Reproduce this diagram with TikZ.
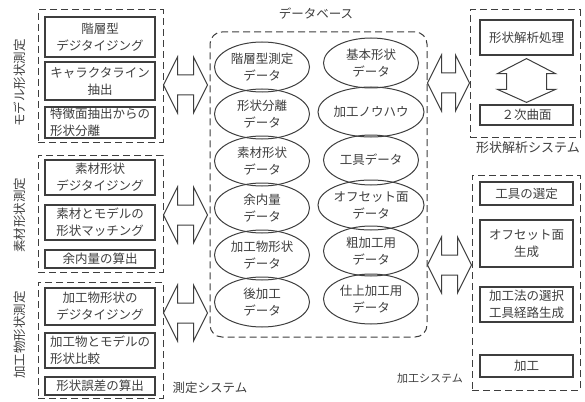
\documentclass[tikz,border=0pt]{standalone}
\usepackage{fontspec}
\setmainfont{Noto Sans CJK JP}
\usetikzlibrary{shapes.geometric,calc}
\definecolor{ink}{RGB}{62,62,62}
\newcommand\dblharrow[2]{%
  \draw[arr] (#1) -- ++(14pt,28pt) -- ++(0pt,-18pt) -- ($(#2)+(-14pt,10pt)$)
    -- ++(0pt,18pt) -- (#2) -- ++(-14pt,-28pt) -- ++(0pt,18pt)
    -- ($(#1)+(14pt,-10pt)$) -- ++(0pt,-18pt) -- cycle;}
\newcommand\dblvarrow[2]{%
  \draw[arr] (#1) -- ++(29pt,-15pt) -- ++(-9pt,0pt) -- ($(#2)+(20pt,13pt)$)
    -- ++(9pt,0pt) -- (#2) -- ++(-29pt,13pt) -- ++(9pt,0pt)
    -- ($(#1)+(-20pt,-15pt)$) -- ++(-9pt,0pt) -- cycle;}
\begin{document}
\begin{tikzpicture}[x=1pt,y=-1pt,
  box/.style={draw=ink, line width=1.2pt, inner sep=0pt, align=center, text=ink,
    minimum width=110pt, font=\fontsize{12.5}{17}\selectfont},
  rbox/.style={box, minimum width=93pt},
  grp/.style={draw=ink, line width=1pt, dash pattern=on 7pt off 4pt, inner sep=0pt},
  oval/.style={ellipse, draw=ink, line width=1pt, inner sep=0pt, minimum width=95pt,
    minimum height=50pt, align=center, text=ink, font=\fontsize{12.5}{17}\selectfont},
  lbl/.style={text=ink, inner sep=0pt, font=\fontsize{12.5}{14}\selectfont},
  arr/.style={draw=ink, line width=1pt, line join=miter, fill=white}]
\useasboundingbox (0,0) rectangle (585,401);

% left groups
\node[grp, minimum width=125pt, minimum height=132pt] (g1) at (100.5,76) {};
\node[grp, minimum width=125pt, minimum height=117pt] (g2) at (100.5,213.5) {};
\node[grp, minimum width=125pt, minimum height=116pt] (g3) at (100.5,340) {};

\node[box, minimum height=40pt] (b11) at (100,37) {階層型\\デジタイジング};
\node[box, minimum height=38pt] (b12) at (100,81) {キャラクタライン\\抽出};
\node[box, minimum height=31pt, align=left] (b13) at (100,122.5) {特徴面抽出からの\\形状分離};
\node[box, minimum height=35pt] (b21) at (100,177.5) {素材形状\\デジタイジング};
\node[box, minimum height=35pt] (b22) at (100,222.5) {素材とモデルの\\形状マッチング};
\node[box, minimum height=18pt] (b23) at (100,259) {余内量の算出};
\node[box, minimum height=37pt] (b31) at (100,306.5) {加工物形状の\\デジタイジング};
\node[box, minimum height=35pt, align=left] (b32) at (100,350.5) {加工物とモデルの\\形状比較};
\node[box, minimum height=18pt] (b33) at (100,386) {形状誤差の算出};

\node[lbl, rotate=90] (l1) at (20,83) {モデル形状測定};
\node[lbl, rotate=90] (l2) at (20,215) {素材形状測定};
\node[lbl, rotate=90] (l3) at (20,335) {加工物形状測定};
\node[lbl] (l4) at (210,388) {測定システム};

% database
\node[grp, rounded corners=12pt, minimum width=217pt, minimum height=305pt] (db) at (318.5,184.5) {};
\node[lbl] (dbl) at (316,14) {データベース};

\node[oval] (e11) at (262,67) {階層型測定\\データ};
\node[oval] (e12) at (262,114) {形状分離\\データ};
\node[oval] (e13) at (262,161) {素材形状\\データ};
\node[oval] (e14) at (262,208) {余内量\\データ};
\node[oval] (e15) at (262,255) {加工物形状\\データ};
\node[oval] (e16) at (262,302) {後加工\\データ};

\node[oval] (e21) at (371,63) {基本形状\\データ};
\node[oval] (e22) at (371,112) {加工ノウハウ};
\node[oval] (e23) at (371,160) {工具データ};
\node[oval] (e24) at (371,205) {オフセット面\\データ};
\node[oval] (e25) at (371,251) {粗加工用\\データ};
\node[oval] (e26) at (371,299) {仕上加工用\\データ};

% right groups
\node[grp, minimum width=110pt, minimum height=127pt] (s1) at (525,73.5) {};
\node[rbox, minimum height=35pt] (r11) at (526.5,37.5) {形状解析処理};
\node[rbox, minimum height=20pt] (r12) at (526.5,115) {２次曲面};
\node[lbl, font=\fontsize{13}{14}\selectfont] (l5) at (528,148) {形状解析システム};

\node[grp, minimum width=108pt, minimum height=215pt] (s2) at (526,282.5) {};
\node[rbox, minimum height=23pt] (r21) at (526.5,193.5) {工具の選定};
\node[rbox, minimum height=47pt] (r22) at (526.5,243.5) {オフセット面\\生成};
\node[rbox, minimum height=35pt] (r23) at (526.5,304.5) {加工法の選択\\工具経路生成};
\node[rbox, minimum height=22pt] (r24) at (526.5,366) {加工};
\node[lbl, font=\fontsize{11}{13}\selectfont] (l6) at (430,378) {加工システム};

% arrows
\path (g1.east) ++(0,9) coordinate (a1l);
\path (db.west |- a1l) ++(-2,0) coordinate (a1r);
\path (g2.east) ++(0,1.5) coordinate (a2l);
\path (db.west |- a2l) ++(-2,0) coordinate (a2r);
\path (g3.east) ++(0,-27) coordinate (a3l);
\path (db.west |- a3l) ++(-2,0) coordinate (a3r);
\path (s1.west) ++(0,9.5) coordinate (a4r);
\path (db.east |- a4r) coordinate (a4l);
\path (s2.west) ++(0,-17.5) coordinate (a5r);
\path (db.east |- a5r) coordinate (a5l);
\dblharrow{a1l}{a1r}
\dblharrow{a2l}{a2r}
\dblharrow{a3l}{a3r}
\dblharrow{a4l}{a4r}
\dblharrow{a5l}{a5r}
\path (r11.south) ++(0,3) coordinate (v1t);
\path (r12.north) ++(0,-2) coordinate (v1b);
\dblvarrow{v1t}{v1b}
\end{tikzpicture}
\end{document}
